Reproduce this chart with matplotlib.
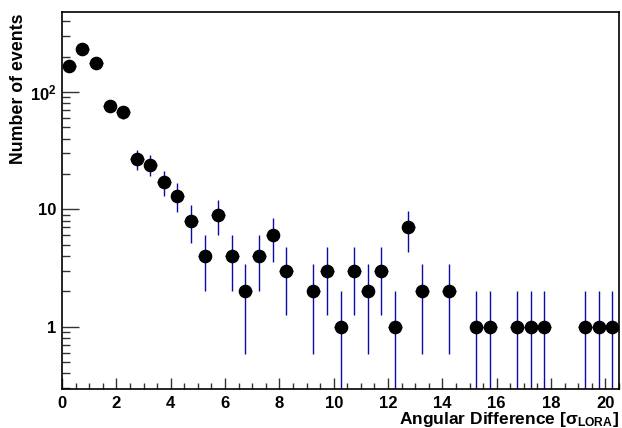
import numpy as np
import matplotlib
matplotlib.use("Agg")
import matplotlib.pyplot as plt
from matplotlib.ticker import FixedLocator, LogLocator, FuncFormatter, MultipleLocator

# bin centres (width 0.5) and counts, empty bins left out
bin_centers = [0.25, 0.75, 1.25, 1.75, 2.25, 2.75, 3.25, 3.75, 4.25, 4.75,
               5.25, 5.75, 6.25, 6.75, 7.25, 7.75, 8.25, 9.25, 9.75, 10.25,
               10.75, 11.25, 11.75, 12.25, 12.75, 13.25, 14.25, 15.25, 15.75,
               16.75, 17.25, 17.75, 19.25, 19.75, 20.25]
counts = [166, 232, 176, 76, 67, 27, 24, 17, 13, 8,
          4, 9, 4, 2, 4, 6, 3, 2, 3, 1,
          3, 2, 3, 1, 7, 2, 2, 1, 1,
          1, 1, 1, 1, 1, 1]
bin_half_width = 0.25

x = np.array(bin_centers)
y = np.array(counts, dtype=float)
err = np.sqrt(y)
err_lo = np.minimum(err, y - 1e-3)

plt.rcParams["font.family"] = ["Liberation Sans", "DejaVu Sans"]
plt.rcParams["font.weight"] = "bold"
plt.rcParams["mathtext.fontset"] = "custom"
plt.rcParams["mathtext.rm"] = "Liberation Sans:bold"
plt.rcParams["mathtext.bf"] = "Liberation Sans:bold"
plt.rcParams["mathtext.it"] = "Liberation Sans:bold"
plt.rcParams["mathtext.sf"] = "Liberation Sans:bold"

fig = plt.figure(figsize=(6.22, 4.28), dpi=100)
ax = fig.add_axes([62 / 622, 1 - 389.3 / 428, (619 - 62) / 622, (389.3 - 12.3) / 428])

ax.errorbar(x, y, yerr=[err_lo, err], xerr=bin_half_width, fmt="none",
            ecolor="#0a0aa8", elinewidth=1.0, capsize=0, zorder=2)
ax.plot(x, y, "o", color="black", markersize=8.8, zorder=3)

ax.set_yscale("log")
ax.set_xlim(0, 20.5)
ax.set_ylim(0.293, 476)

ax.xaxis.set_major_locator(MultipleLocator(2))
ax.xaxis.set_minor_locator(MultipleLocator(0.5))
ax.yaxis.set_major_locator(FixedLocator([1, 10, 100]))
ax.yaxis.set_minor_locator(LogLocator(base=10, subs=np.arange(2, 10)))


def ylab(v, pos):
    if v == 100:
        return r"$\mathrm{10^{2}}$"
    return "%d" % v


ax.yaxis.set_major_formatter(FuncFormatter(ylab))
ax.yaxis.set_minor_formatter(FuncFormatter(lambda v, p: ""))

ax.tick_params(axis="both", which="both", direction="in", top=False, right=False,
               labelsize=12, width=1.0, color="#333333")
ax.tick_params(axis="y", which="major", length=12, pad=4)
ax.tick_params(axis="y", which="minor", length=6)
ax.tick_params(axis="x", which="major", length=8, pad=5)
ax.tick_params(axis="x", which="minor", length=4)
for lbl in ax.get_xticklabels() + ax.get_yticklabels():
    lbl.set_fontweight("bold")
for sp in ax.spines.values():
    sp.set_linewidth(1.2)

fig.text(619 / 622, 1 - 424 / 428, r"Angular Difference [$\mathrm{\sigma_{LORA}}$]",
         fontsize=12.5, fontweight="bold", ha="right", va="baseline")
fig.text(19 / 622, 1 - 13 / 428, "Number of events", fontsize=12.8, fontweight="bold",
         rotation=90, ha="center", va="top")

fig.savefig("out.png", dpi=100)
